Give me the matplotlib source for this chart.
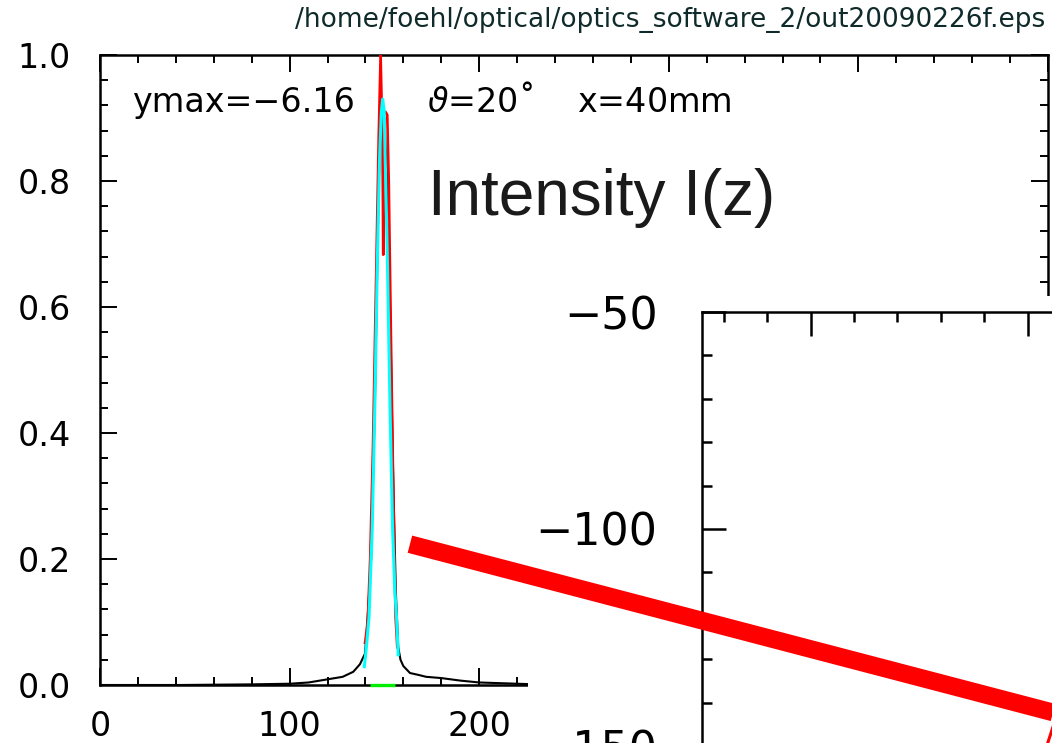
import matplotlib
matplotlib.use("Agg")
import matplotlib.pyplot as plt
from matplotlib.patches import Rectangle
from matplotlib.ticker import MultipleLocator, FixedLocator, FixedFormatter, NullFormatter

plt.rcParams["mathtext.fontset"] = "dejavusans"

# ---------------- data ----------------
black_x = [0, 20, 42, 60, 80, 100, 110, 120, 128, 133.6, 137.1, 139.8, 141, 143, 145,
           147, 148.5, 150, 151.5, 153, 154.5, 156, 157.3, 158.5, 160, 163.5, 168,
           172, 180, 190, 200, 210, 220, 230]
black_y = [0.0, 0.0, 0.0, 0.0005, 0.001, 0.002, 0.004, 0.009, 0.013, 0.021, 0.033, 0.05,
           0.1, 0.2, 0.45, 0.8, 0.9, 0.9, 0.8, 0.6, 0.35, 0.15, 0.06, 0.04, 0.03, 0.019,
           0.016, 0.013, 0.011, 0.007, 0.004, 0.003, 0.002, 0.001]

red_x = [139.8, 140.8, 141.3, 142.5, 144.0, 145.9, 147.0, 148.0, 149.0, 149.4, 149.5,
         150.5, 151.5, 152.3, 152.8, 153.4, 154.2, 155.0, 155.9, 156.8]
red_y = [0.067, 0.09, 0.108, 0.2, 0.38, 0.69, 0.87, 1.0, 0.86, 0.683, 0.905,
         0.91, 0.905, 0.8, 0.69, 0.563, 0.4, 0.25, 0.108, 0.06]

cyan_x = [139.4, 140.5, 141.9, 143.6, 145.0, 146.4, 147.5, 148.4, 149.1, 149.9, 150.4,
          151.5, 152.9, 154.3, 155.5, 156.4, 157.3]
cyan_y = [0.029, 0.06, 0.108, 0.25, 0.45, 0.69, 0.84, 0.91, 0.93, 0.91, 0.84,
          0.69, 0.45, 0.25, 0.15, 0.108, 0.048]

green_x = [142.4, 155.6]
green_y = [0.0, 0.0]

main_xticks = [0, 100, 200, 300, 400, 500]
main_xticklabels = ["0", "100", "200", "", "", ""]
main_yticks = [0.0, 0.2, 0.4, 0.6, 0.8, 1.0]
main_yticklabels = ["0.0", "0.2", "0.4", "0.6", "0.8", "1.0"]

inset_yticks = [-200, -150, -100, -50]
inset_yticklabels = ["", "\u2212150", "\u2212100", "\u221250"]
inset_xticks = [0, 50, 100]

thick_red_x = [-92.3, 66.7]
thick_red_y = [-103.5, -145.1]
frag_red_x = [54.6, 56.1]
frag_red_y = [-149.5, -144.9]

header = "/home/foehl/optical/optics_software_2/out20090226f.eps"
info_left = "ymax=\u22126.16"
info_right = r"$\vartheta$=20\u02da    x=40mm".replace("\\u02da", "\u02da")
title = "Intensity I(z)"

# ---------------- figure ----------------
W, H = 1052, 743
fig = plt.figure(figsize=(W / 100, H / 100), dpi=100)
fig.patch.set_facecolor("white")

def fx(px):
    return px / W

def fy(py):
    return 1 - py / H

# main axes
ax = fig.add_axes([fx(100), fy(685), fx(1048) - fx(100), fy(55) - fy(685)], zorder=0)
ax.set_xlim(0, 500)
ax.set_ylim(0, 1)
ax.plot(black_x, black_y, color="black", lw=1.5, zorder=2)
ax.plot(red_x, red_y, color="#ff0000", lw=1.9, zorder=3)
ax.plot(cyan_x, cyan_y, color="#00ffff", lw=2.2, zorder=4)
ax.plot(green_x, green_y, color="#00ee00", lw=2.4, zorder=5, clip_on=False,
        solid_capstyle="butt")

ax.xaxis.set_major_locator(FixedLocator(main_xticks))
ax.xaxis.set_major_formatter(FixedFormatter(main_xticklabels))
ax.xaxis.set_minor_locator(MultipleLocator(20))
ax.yaxis.set_major_locator(FixedLocator(main_yticks))
ax.yaxis.set_major_formatter(FixedFormatter(main_yticklabels))
ax.yaxis.set_minor_locator(MultipleLocator(0.04))
ax.tick_params(which="both", direction="in", top=True, right=True, width=1.4,
               color="black")
ax.tick_params(which="major", length=12, labelsize=24)
ax.tick_params(which="minor", length=6)
ax.tick_params(axis="y", which="major", pad=21)
ax.tick_params(axis="x", which="major", pad=18)
for s in ax.spines.values():
    s.set_linewidth(1.8)

# white cover behind inset
cover = Rectangle((fx(528), 0), 1 - fx(528) + 0.01, fy(296), transform=fig.transFigure,
                  facecolor="white", edgecolor="none", zorder=1)
fig.add_artist(cover)

# inset axes
ins_h = 150 * 4.34
ins_w = 125 * 4.34
ax2 = fig.add_axes([fx(702), fy(312 + ins_h), ins_w / W, ins_h / H], zorder=2)
ax2.set_xlim(-25, 100)
ax2.set_ylim(-200, -50)
ax2.set_facecolor("white")
ax2.yaxis.set_major_locator(FixedLocator(inset_yticks))
ax2.yaxis.set_major_formatter(FixedFormatter(inset_yticklabels))
ax2.yaxis.set_minor_locator(MultipleLocator(10))
ax2.xaxis.set_major_locator(FixedLocator(inset_xticks))
ax2.xaxis.set_major_formatter(NullFormatter())
ax2.xaxis.set_minor_locator(MultipleLocator(10))
ax2.tick_params(which="both", direction="in", top=True, right=True, width=1.8)
ax2.tick_params(which="major", length=17, labelsize=32, pad=32)
ax2.tick_params(which="minor", length=7.5)
for s in ax2.spines.values():
    s.set_linewidth(1.8)

ax2.plot(thick_red_x, thick_red_y, color="#ff0000", lw=12.8, clip_on=False,
         solid_capstyle="butt", zorder=10)
ax2.plot(frag_red_x, frag_red_y, color="#ff0000", lw=2.2, zorder=9)

# texts
fig.text(fx(1045), fy(27), header, ha="right", va="baseline", fontsize=19,
         family="DejaVu Sans", color="#0f2a2a")
fig.text(fx(132), fy(112), info_left, ha="left", va="baseline", fontsize=24,
         family="DejaVu Sans", color="black")
fig.text(fx(427), fy(112), info_right, ha="left", va="baseline", fontsize=24,
         family="DejaVu Sans", color="black")
fig.text(fx(428), fy(215), title, ha="left", va="baseline", fontsize=46,
         family="Liberation Sans", color="#1a1a1a")

fig.savefig("out.png", dpi=100)
